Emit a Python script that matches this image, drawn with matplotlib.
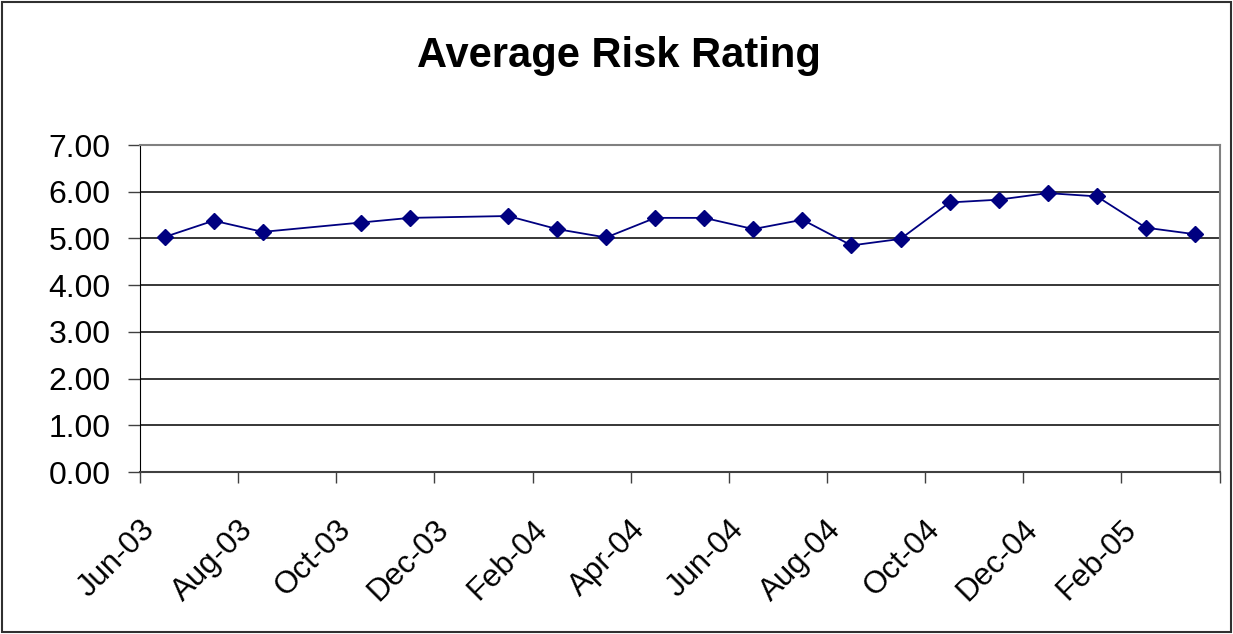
import pandas as pd
import matplotlib
matplotlib.use("Agg")
import matplotlib.pyplot as plt
import matplotlib.transforms as mtransforms
from matplotlib.patches import Rectangle

plt.rcParams['font.family'] = ['Liberation Sans', 'DejaVu Sans']

# monthly average risk rating (Sep-03 and Dec-03 missing)
months = ['2003-06', '2003-07', '2003-08', '2003-10', '2003-11',
          '2004-01', '2004-02', '2004-03', '2004-04', '2004-05', '2004-06',
          '2004-07', '2004-08', '2004-09', '2004-10', '2004-11', '2004-12',
          '2005-01', '2005-02', '2005-03']
ratings = [5.03, 5.38, 5.14, 5.34, 5.44,
           5.48, 5.20, 5.02, 5.44, 5.44, 5.20,
           5.40, 4.85, 4.99, 5.77, 5.83, 5.97,
           5.90, 5.23, 5.09]

axis_start = pd.Period('2003-06', freq='M')
axis_end = pd.Period('2005-04', freq='M')

df = pd.DataFrame({'month': pd.PeriodIndex(months, freq='M'), 'rating': ratings})
# points sit in the middle of each month bucket (Excel "between tick marks")
df['x'] = [(p - axis_start).n + 0.5 for p in df['month']]

W, H = 1233, 634
fig = plt.figure(figsize=(W / 100, H / 100), dpi=100)
ax = fig.add_axes([140 / W, 1 - 472 / H, (1219.5 - 140) / W, (472 - 145) / H])

ax.plot(df['x'], df['rating'], color='#000080', linewidth=1.3,
        marker='D', markersize=8.5, markerfacecolor='#000080',
        markeredgecolor='#000080', zorder=3)

n_months = (axis_end - axis_start).n
ax.set_xlim(0, n_months)
ax.set_ylim(0, 7)

tick_pos = list(range(0, n_months + 1, 2))
tick_lab = [(axis_start + i).strftime('%b-%y') for i in tick_pos]
tick_lab[-1] = ''
ax.set_xticks(tick_pos)
ax.set_xticklabels(tick_lab, rotation=45, ha='right', va='center',
                   rotation_mode='anchor', fontsize=22.5)
ax.set_yticks(range(0, 8))
ax.set_yticklabels([f'{v:.2f}' for v in range(0, 8)], fontsize=23)

ax.tick_params(axis='x', direction='out', length=8, width=1, pad=30, color='#404040')
ax.tick_params(axis='y', direction='out', length=9, width=1, pad=12, color='#404040')

offset = mtransforms.ScaledTranslation(10 / 100, 0, fig.dpi_scale_trans)
for lab in ax.get_xticklabels():
    lab.set_transform(lab.get_transform() + offset)

ax.yaxis.grid(True, color='black', linewidth=1.1)
ax.set_axisbelow(True)

ax.spines['top'].set_color('#808080')
ax.spines['right'].set_color('#808080')
ax.spines['top'].set_linewidth(1.5)
ax.spines['right'].set_linewidth(1.5)
ax.spines['left'].set_color('black')
ax.spines['bottom'].set_color('#404040')
ax.spines['bottom'].set_linewidth(1.5)

fig.text(0.502, 1 - 67 / H, 'Average Risk Rating', ha='center', va='baseline',
         fontsize=30, fontweight='bold')

# chart area border
fig.patches.append(Rectangle((2 / W, 2 / H), 1 - 4 / W, 1 - 4 / H,
                             transform=fig.transFigure, fill=False,
                             edgecolor='#303030', linewidth=1.5))

fig.savefig('out.png', dpi=100)
